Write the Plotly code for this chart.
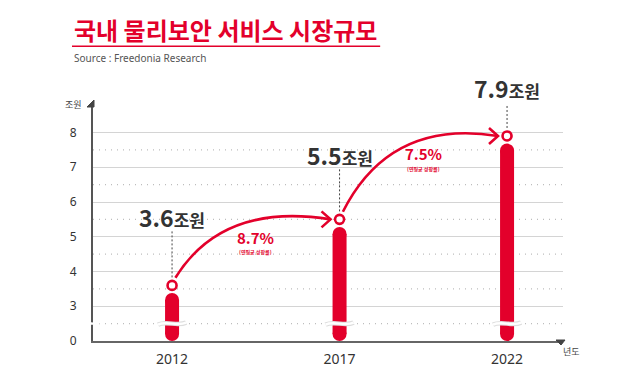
import plotly.graph_objects as go

# ---- data ----
years = [2012, 2017, 2022]
values = [3.6, 5.5, 7.9]            # 조원
growth = [8.7, 7.5]                 # 연평균 성장률 (%)
y_ticks = [2, 3, 4, 5, 6, 7, 8]
y_ticktext = ["0", "3", "4", "5", "6", "7", "8"]
half_lines = [2.5, 3.5, 4.5, 5.5, 6.5, 7.5]
label_offsets = [68, 64, 48]        # px above the point for value labels

RED = "#e3002b"
DARK = "#333333"
KFONT = "Noto Sans CJK KR, Noto Sans, sans-serif"

XR = [2009.64, 2023.67]
YR = [2.0, 8.82]

fig = go.Figure()

# bars as thick rounded lines (axis broken: 0 shown at position 2)
cap = 0.2
gap = 0.22
bx, by = [], []
for x, v in zip(years, values):
    bx += [x, x, None]
    by += [YR[0] + cap, v - gap - cap, None]
fig.add_trace(go.Scatter(x=bx, y=by, mode="lines+markers",
                         line=dict(color=RED, width=14),
                         marker=dict(color=RED, size=14),
                         hoverinfo="skip", cliponaxis=False))

# open circle markers at values
fig.add_trace(go.Scatter(x=years, y=values, mode="markers",
                         marker=dict(color="white", size=9,
                                     line=dict(color=RED, width=2.6)),
                         hoverinfo="skip", cliponaxis=False))

shapes = []
# dotted half gridlines
for h in half_lines:
    shapes.append(dict(type="line", xref="paper", x0=0, x1=1, yref="y", y0=h, y1=h,
                       line=dict(color="#bdbdbd", width=1.3, dash="1px,5px"), layer="below"))

# break squiggles on bars and axis
for x in years:
    shapes.append(dict(type="path", xref="x", yref="y", xsizemode="pixel", ysizemode="pixel",
                       xanchor=x, yanchor=2.5,
                       path="M -14,-1 C -6,3 6,-3 14,1",
                       line=dict(color="#dddddd", width=4.5)))
    shapes.append(dict(type="path", xref="x", yref="y", xsizemode="pixel", ysizemode="pixel",
                       xanchor=x, yanchor=2.5,
                       path="M -14,-1 C -6,3 6,-3 14,1",
                       line=dict(color="white", width=2.5)))
shapes.append(dict(type="path", xref="paper", yref="y", xsizemode="pixel", ysizemode="pixel",
                   xanchor=0, yanchor=2.5, path="M -6,-1 C -2,2 2,-2 6,1",
                   line=dict(color="white", width=2.5)))

# dashed connectors from labels to points
for x, v, off in zip(years, values, label_offsets):
    shapes.append(dict(type="line", xref="x", yref="y", xsizemode="pixel", ysizemode="pixel",
                       xanchor=x, yanchor=v, x0=0, x1=0, y0=8, y1=off - 14,
                       line=dict(color="#444444", width=1, dash="2px,2px")))

# curved growth arrows
for i in range(len(years) - 1):
    x0, y0 = years[i] + 0.1, values[i] + 0.22
    x1, y1 = years[i + 1] - 0.27, values[i + 1]
    cx, cy = years[i] + 1.5, values[i + 1] + 0.5
    shapes.append(dict(type="path", xref="x", yref="y",
                       path=f"M {x0},{y0} Q {cx},{cy} {x1},{y1}",
                       line=dict(color=RED, width=2.6)))
    shapes.append(dict(type="path", xref="x", yref="y", xsizemode="pixel", ysizemode="pixel",
                       xanchor=x1, yanchor=y1, path="M -9,8 L 0,0 L -9,-8",
                       line=dict(color=RED, width=2.6)))

# axis arrowheads
shapes.append(dict(type="path", xref="paper", yref="paper", xsizemode="pixel", ysizemode="pixel",
                   xanchor=0, yanchor=1, path="M -6,-3 L 1,4 L 1,-3 Z",
                   fillcolor="#444444", line=dict(color="#444444", width=1)))
shapes.append(dict(type="path", xref="paper", yref="paper", xsizemode="pixel", ysizemode="pixel",
                   xanchor=1, yanchor=0, path="M -7,1 L 2,1 L -2,-4 Z",
                   fillcolor="#444444", line=dict(color="#444444", width=1)))

# title underline
shapes.append(dict(type="line", xref="paper", yref="paper", x0=-0.0447, x1=0.611,
                   y0=1.244, y1=1.244, line=dict(color=RED, width=1.5)))

annotations = []
# value labels
for x, v, off in zip(years, values, label_offsets):
    annotations.append(dict(x=x, y=v, xref="x", yref="y", yshift=off, showarrow=False,
                            text=f"<b>{v:.1f}</b><span style='font-size:17px'><b>조원</b></span>",
                            font=dict(family=KFONT, size=23, color=DARK),
                            xanchor="center", yanchor="middle"))
# growth labels
for i, g in enumerate(growth):
    xm = (years[i] + years[i + 1]) / 2
    ym = values[i + 1] - 0.6
    annotations.append(dict(x=xm, y=ym, xref="x", yref="y", yshift=3, showarrow=False,
                            text=f"<b>{g}%</b>", font=dict(family=KFONT, size=15, color=RED),
                            xanchor="center", yanchor="middle"))
    annotations.append(dict(x=xm, y=ym, xref="x", yref="y", yshift=-12, showarrow=False,
                            text="<b>(연평균 성장률)</b>", font=dict(family=KFONT, size=5, color=RED),
                            xanchor="center", yanchor="middle"))

# axis unit labels
annotations.append(dict(x=0, y=1, xref="paper", yref="paper", xshift=-9, showarrow=False,
                        text="조원", font=dict(family=KFONT, size=9, color="#444444"),
                        xanchor="right", yanchor="middle"))
annotations.append(dict(x=1, y=0, xref="paper", yref="paper", xshift=-2, yshift=-10,
                        showarrow=False, text="년도",
                        font=dict(family=KFONT, size=9, color="#444444"),
                        xanchor="left", yanchor="middle"))

# title and source
annotations.append(dict(x=-0.0447, y=1.314, xref="paper", yref="paper", showarrow=False,
                        text="<b>국내 물리보안 서비스 시장규모</b>",
                        font=dict(family=KFONT, size=24, color=RED),
                        xanchor="left", yanchor="middle"))
annotations.append(dict(x=-0.0447, y=1.194, xref="paper", yref="paper", showarrow=False,
                        text="Source : Freedonia Research",
                        font=dict(family="Noto Sans, sans-serif", size=10, color="#555555"),
                        xanchor="left", yanchor="middle"))

fig.update_layout(
    width=622, height=372,
    margin=dict(l=85, r=67, t=96, b=34),
    paper_bgcolor="white", plot_bgcolor="white",
    showlegend=False,
    shapes=shapes, annotations=annotations,
    xaxis=dict(range=XR, tickvals=years, ticktext=[str(y) for y in years],
               showgrid=False, zeroline=False, showline=True, linecolor="#666666",
               linewidth=2, ticks="", ticklabelstandoff=4,
               tickfont=dict(family="Noto Sans, sans-serif", size=14, color=DARK)),
    yaxis=dict(range=YR, tickvals=y_ticks, ticktext=y_ticktext,
               showgrid=True, gridcolor="#d4d4d4", gridwidth=1, zeroline=False,
               showline=True, linecolor="#555555", linewidth=2, ticks="",
               ticklabelstandoff=12,
               tickfont=dict(family="Noto Sans, sans-serif", size=12, color=DARK)),
)

fig.write_html("out.html")
